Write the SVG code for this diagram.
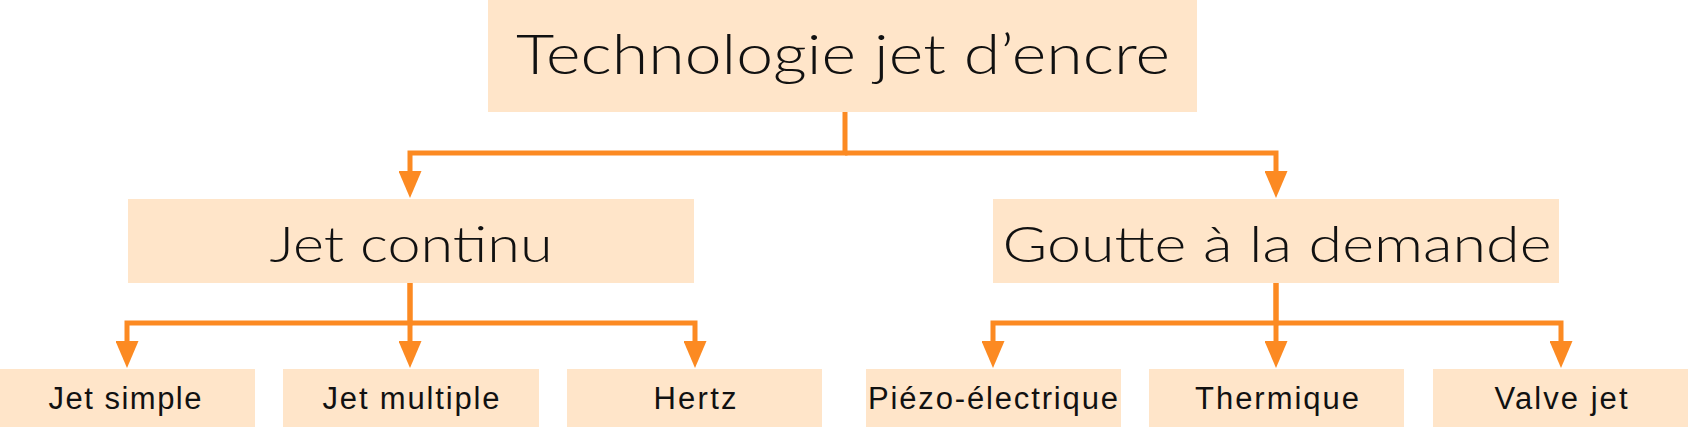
<svg xmlns="http://www.w3.org/2000/svg" width="1688" height="427" viewBox="0 0 1688 427">
<style>
.box{fill:#FFE5C9}
.t1{font-family:"Lato","Liberation Sans",sans-serif;font-weight:300;font-size:55px;fill:#111;text-anchor:middle}
.t2{font-family:"Lato","Liberation Sans",sans-serif;font-weight:300;font-size:49px;fill:#111;text-anchor:middle}
.t3{font-family:"Liberation Sans","DejaVu Sans",sans-serif;font-size:31px;fill:#111;text-anchor:middle}
.c{fill:none;stroke:#FC8A22;stroke-width:5;stroke-linejoin:miter}
</style>
<defs>
<marker id="ah" markerUnits="userSpaceOnUse" markerWidth="27" markerHeight="23" refX="17" refY="11.5" orient="auto" viewBox="0 0 27 23">
<path d="M0 0 L27 11.5 L0 23 Z" fill="#FC8A22"/>
</marker>
</defs>
<rect width="1688" height="427" fill="#fff"/>
<g id="connectors">
<path class="c" d="M845 112 V153 H410 V188" marker-end="url(#ah)"/>
<path class="c" d="M845 153 H1276 V188" marker-end="url(#ah)"/>
<path class="c" d="M410 283 V323 H127 V358" marker-end="url(#ah)"/>
<path class="c" d="M410 283 V358" marker-end="url(#ah)"/>
<path class="c" d="M410 323 H695 V358" marker-end="url(#ah)"/>
<path class="c" d="M1276 283 V323 H993 V358" marker-end="url(#ah)"/>
<path class="c" d="M1276 283 V358" marker-end="url(#ah)"/>
<path class="c" d="M1276 323 H1561 V358" marker-end="url(#ah)"/>
</g>
<g id="n_root"><rect class="box" x="488" y="0" width="709" height="112"/><text class="t1" x="843" y="74" textLength="654" lengthAdjust="spacingAndGlyphs">Technologie jet d’encre</text></g>
<g id="n_jetcontinu"><rect class="box" x="128" y="199" width="566" height="84"/><text class="t2" x="411" y="262" textLength="283" lengthAdjust="spacingAndGlyphs">Jet continu</text></g>
<g id="n_goutte"><rect class="box" x="993" y="199" width="566" height="84"/><text class="t2" x="1277" y="262" textLength="549" lengthAdjust="spacingAndGlyphs">Goutte à la demande</text></g>
<g id="n_jetsimple"><rect class="box" x="0" y="369" width="255" height="58"/><text class="t3" x="125" y="409" textLength="153" lengthAdjust="spacing">Jet simple</text></g>
<g id="n_jetmultiple"><rect class="box" x="283" y="369" width="256" height="58"/><text class="t3" x="411" y="409" textLength="177" lengthAdjust="spacing">Jet multiple</text></g>
<g id="n_hertz"><rect class="box" x="567" y="369" width="255" height="58"/><text class="t3" x="695" y="409" textLength="83" lengthAdjust="spacing">Hertz</text></g>
<g id="n_piezo"><rect class="box" x="866" y="369" width="255" height="58"/><text class="t3" x="993" y="409" textLength="250" lengthAdjust="spacing">Piézo-électrique</text></g>
<g id="n_thermique"><rect class="box" x="1149" y="369" width="255" height="58"/><text class="t3" x="1277" y="409" textLength="164" lengthAdjust="spacing">Thermique</text></g>
<g id="n_valve"><rect class="box" x="1433" y="369" width="255" height="58"/><text class="t3" x="1561" y="409" textLength="133" lengthAdjust="spacing">Valve jet</text></g>
</svg>
